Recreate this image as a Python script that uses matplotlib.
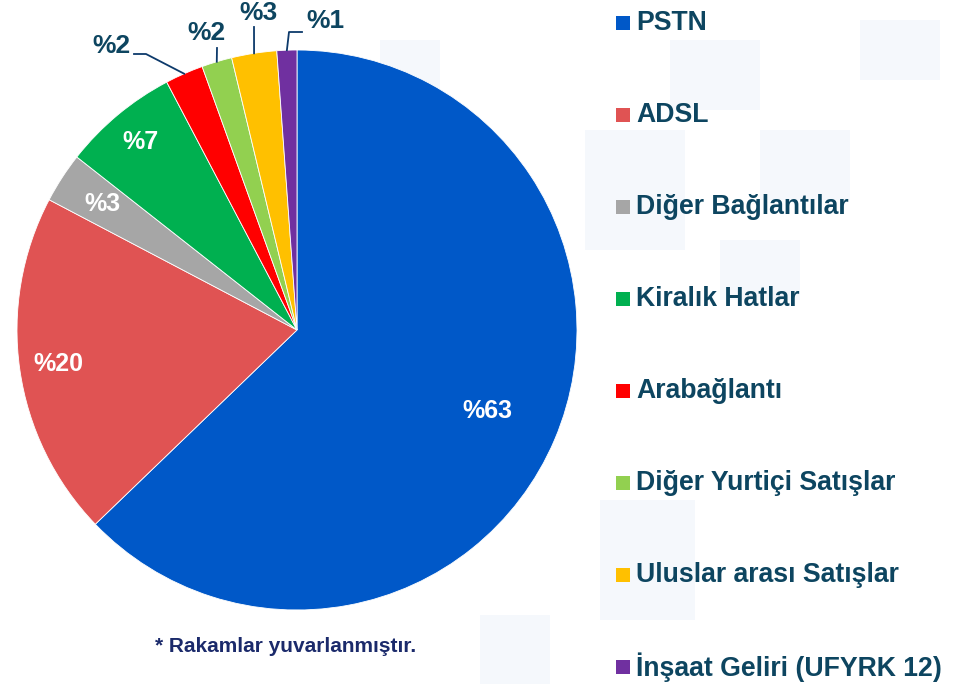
import numpy as np
import matplotlib.pyplot as plt
from matplotlib.patches import Rectangle

plt.rcParams['font.family'] = ['Liberation Sans', 'DejaVu Sans']

categories = ["PSTN", "ADSL", "Diğer Bağlantılar", "Kiralık Hatlar", "Arabağlantı",
              "Diğer Yurtiçi Satışlar", "Uluslar arası Satışlar", "İnşaat Geliri (UFYRK 12)"]
# shares as measured from slice angles; labels show them rounded
shares = [62.8, 19.9, 2.9, 6.7, 2.2, 1.75, 2.6, 1.15]
colors = ["#0058c8", "#e05353", "#a6a6a6", "#00b050", "#ff0000", "#92d050", "#ffc000", "#7030a0"]
note = "* Rakamlar yuvarlanmıştır."

W, H = 962, 684
fig = plt.figure(figsize=(W / 100, H / 100), dpi=100)
ax = fig.add_axes([0, 0, 1, 1])

# faint background blocks
for (x, y, w, h) in [(585, 130, 100, 120), (670, 40, 90, 70), (760, 130, 90, 70),
                     (600, 500, 95, 120), (480, 615, 70, 69), (860, 20, 80, 60),
                     (380, 40, 60, 50), (720, 240, 80, 60)]:
    ax.add_patch(Rectangle((x, y), w, h, color="#f5f8fc", zorder=0, lw=0))

cx, cy, R = 297, 330, 280
# y axis is inverted, so counterclock=True draws clockwise on screen
wedges, _ = ax.pie(shares, colors=colors, startangle=-90, counterclock=True,
                   center=(cx, cy), radius=R, frame=True,
                   wedgeprops=dict(edgecolor="white", linewidth=0.6))
ax.set_xlim(0, W)
ax.set_ylim(H, 0)
ax.set_aspect('equal')
ax.axis('off')

total = sum(shares)
cum = np.cumsum([0] + shares)
mid = [(cum[i] + shares[i] / 2) / total * 2 * np.pi for i in range(len(shares))]

# inside labels
inside_r = {0: 0.74, 1: 0.86, 2: 0.83, 3: 0.875}
for i, r in inside_r.items():
    a = mid[i]
    x = cx + r * R * np.sin(a)
    y = cy - r * R * np.cos(a)
    ax.text(x, y, f"%{round(shares[i])}", color="white", fontsize=18, fontweight="bold",
            ha="center", va="center")

# outside labels with leader lines
tcol = "#0d4560"
outside = {
    4: [(146, 54), (134, 54)],
    5: [(217, 48)],
    6: [(254, 27)],
    7: [(289, 32), (302, 32)],
}
label_pos = {4: (111, 46), 5: (206, 33), 6: (259, 13), 7: (325, 21)}
for i, pts in outside.items():
    a = mid[i]
    x0 = cx + R * np.sin(a)
    y0 = cy - R * np.cos(a)
    xs = [x0] + [p[0] for p in pts]
    ys = [y0] + [p[1] for p in pts]
    ax.plot(xs, ys, color="#0d3a6b", lw=1.3)
    lx, ly = label_pos[i]
    ax.text(lx, ly, f"%{round(shares[i])}", color=tcol, fontsize=19, fontweight="bold",
            ha="center", va="center")

# legend
for i, (name, c) in enumerate(zip(categories, colors)):
    y = 23 + i * 92
    ax.add_patch(Rectangle((616, y - 7), 14, 14, color=c, lw=0))
    ax.text(636, y, name, color=tcol, fontsize=19.2, fontweight="bold",
            ha="left", va="center")

ax.text(286, 646, note, color="#1b2a6b", fontsize=15, fontweight="bold",
        ha="center", va="center")

fig.savefig("out.png", dpi=100)
